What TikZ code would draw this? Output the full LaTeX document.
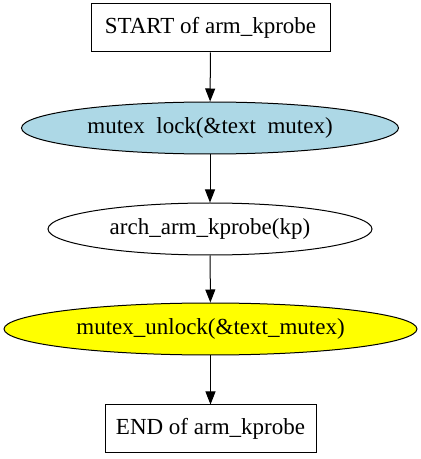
\documentclass[tikz,border=0pt]{standalone}
\usepackage{fontspec}
\setmainfont{Liberation Serif}
\usetikzlibrary{shapes.geometric,arrows.meta}
\definecolor{lblue}{HTML}{ADD8E6}
\definecolor{yel}{HTML}{FFFF00}
\begin{document}
\begin{tikzpicture}[x=1pt,y=1pt,
  every node/.style={font=\fontsize{23}{27}\selectfont, inner sep=0pt, line width=1pt},
  boxnode/.style={draw, rectangle, minimum height=48pt},
  ellnode/.style={draw, ellipse, minimum height=52pt},
  arr/.style={line width=1pt, -{Triangle[length=13pt,width=10pt]}}]
\useasboundingbox (0,0) rectangle (421,459);
\node[boxnode, minimum width=239pt] (start) at (210.5,431) {START of arm\_kprobe};
\node[ellnode, fill=lblue, minimum width=377pt] (lock) at (210,331) {mutex\phantom{\_}lock(\&text\phantom{\_}mutex)};
\node[ellnode, minimum width=324pt] (arch) at (210,230) {arch\_arm\_kprobe(kp)};
\node[ellnode, fill=yel, minimum width=413pt] (unlock) at (210.5,130) {mutex\_unlock(\&text\_mutex)};
\node[boxnode, minimum width=211pt] (end) at (210.5,30) {END of arm\_kprobe};
\draw[arr] (start) -- (lock);
\draw[arr] (lock) -- (arch);
\draw[arr] (arch) -- (unlock);
\draw[arr] (unlock) -- (end);
\end{tikzpicture}
\end{document}
